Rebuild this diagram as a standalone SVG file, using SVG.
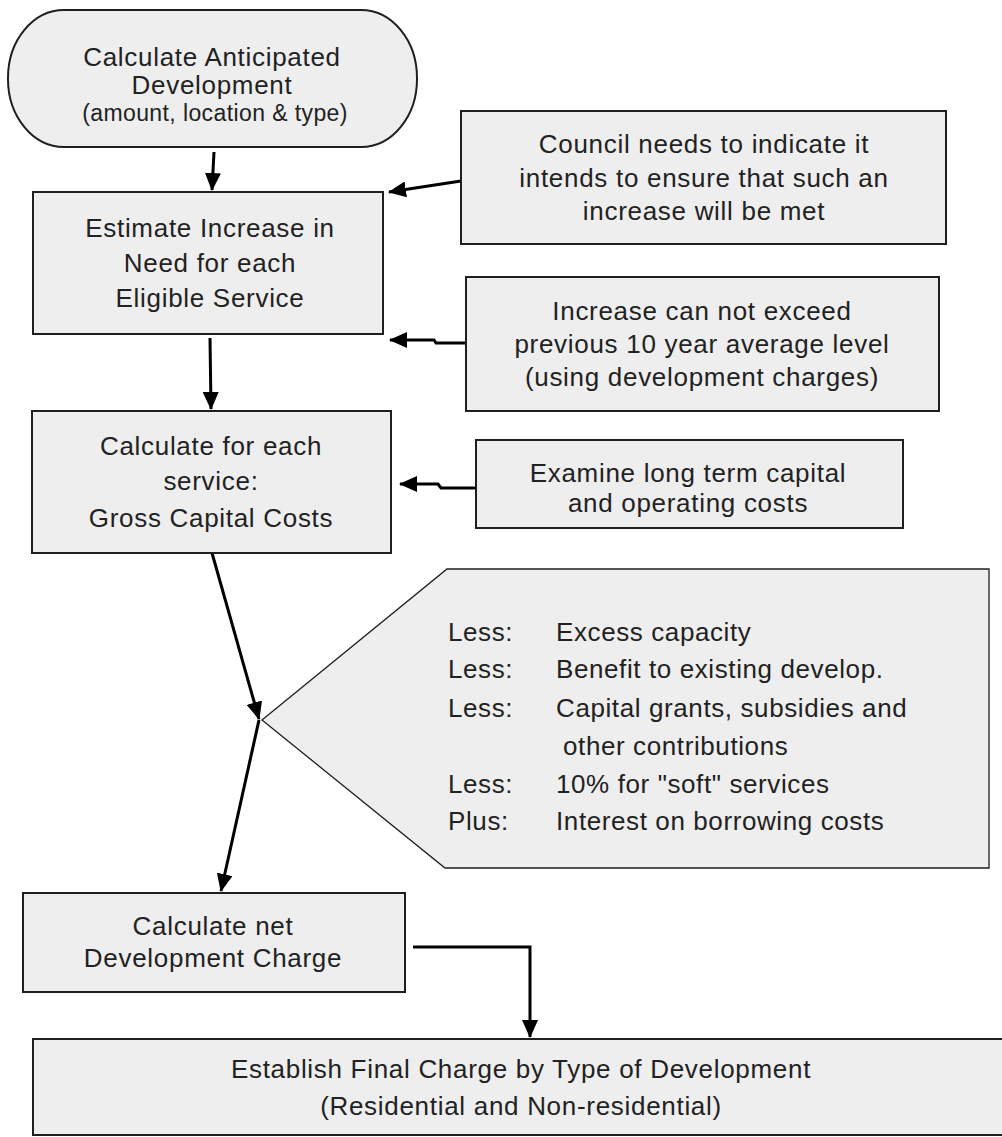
<svg xmlns="http://www.w3.org/2000/svg" width="1002" height="1137" viewBox="0 0 1002 1137">
  <style>
    .box { fill: #eeeeee; stroke: #1f1f1f; stroke-width: 2; }
    .callout { fill: #eeeeee; stroke: #1f1f1f; stroke-width: 1.3; }
    .t { font-family: "Liberation Sans", Arial, sans-serif; font-size: 26px; fill: #222222; text-anchor: middle; letter-spacing: 0.7px; }
    .small { font-size: 23px; letter-spacing: 0.4px; }
    .l { font-family: "Liberation Sans", Arial, sans-serif; font-size: 26px; fill: #222222; letter-spacing: 0.6px; }
    .conn { fill: none; stroke: #000000; stroke-width: 3; }
  </style>
  <defs>
    <marker id="arr" viewBox="0 0 18 16" refX="17" refY="8" markerWidth="18" markerHeight="16" markerUnits="userSpaceOnUse" orient="auto">
      <path d="M0,0 L18,8 L0,16 z" fill="#000000"/>
    </marker>
  </defs>

  <g id="connectors">
    <path class="conn" d="M214,152 L212,190" marker-end="url(#arr)"/>
    <path class="conn" d="M210,338 L211,409" marker-end="url(#arr)"/>
    <path class="conn" d="M461,181 L389,192" marker-end="url(#arr)"/>
    <path class="conn" d="M466,343 L436,343 L434,340 L390,340" marker-end="url(#arr)"/>
    <path class="conn" d="M476,488 L441,488 L438,484 L400,484" marker-end="url(#arr)"/>
    <path class="conn" d="M212,553 L259,719" marker-end="url(#arr)"/>
    <path class="conn" d="M259,720 L221,891" marker-end="url(#arr)"/>
    <path class="conn" d="M413,947 L530,947 L530,1037" marker-end="url(#arr)"/>
  </g>

  <g id="n-anticipated">
    <rect class="box" x="8" y="10" width="409" height="137" rx="56" ry="68"/>
    <text class="t" x="212" y="66">Calculate Anticipated</text>
    <text class="t" x="212" y="94">Development</text>
    <text class="t small" x="215" y="121">(amount, location &amp; type)</text>
  </g>

  <g id="n-estimate">
    <rect class="box" x="33" y="192" width="350" height="142"/>
    <text class="t" x="210" y="237">Estimate Increase in</text>
    <text class="t" x="210" y="272">Need for each</text>
    <text class="t" x="210" y="307">Eligible Service</text>
  </g>

  <g id="n-gross">
    <rect class="box" x="32" y="411" width="359" height="142"/>
    <text class="t" x="211" y="455">Calculate for each</text>
    <text class="t" x="211" y="490">service:</text>
    <text class="t" x="211" y="527">Gross Capital Costs</text>
  </g>

  <g id="n-council">
    <rect class="box" x="461" y="111" width="485" height="133"/>
    <text class="t" x="704" y="153">Council needs to indicate it</text>
    <text class="t" x="704" y="187">intends to ensure that such an</text>
    <text class="t" x="704" y="220">increase will be met</text>
  </g>

  <g id="n-increase">
    <rect class="box" x="466" y="277" width="473" height="134"/>
    <text class="t" x="702" y="320">Increase can not exceed</text>
    <text class="t" x="702" y="353">previous 10 year average level</text>
    <text class="t" x="702" y="386">(using development charges)</text>
  </g>

  <g id="n-examine">
    <rect class="box" x="476" y="440" width="427" height="88"/>
    <text class="t" x="688" y="482">Examine long term capital</text>
    <text class="t" x="688" y="512">and operating costs</text>
  </g>

  <g id="n-less">
    <polygon class="callout" points="262,720 447,569 989,569 989,868 445,868"/>
    <text class="l" x="448" y="641">Less:</text>
    <text class="l" x="556" y="641">Excess capacity</text>
    <text class="l" x="448" y="678">Less:</text>
    <text class="l" x="556" y="678">Benefit to existing develop.</text>
    <text class="l" x="448" y="717">Less:</text>
    <text class="l" x="556" y="717">Capital grants, subsidies and</text>
    <text class="l" x="563" y="755">other contributions</text>
    <text class="l" x="448" y="793">Less:</text>
    <text class="l" x="556" y="793">10% for "soft" services</text>
    <text class="l" x="448" y="830">Plus:</text>
    <text class="l" x="556" y="830">Interest on borrowing costs</text>
  </g>

  <g id="n-net">
    <rect class="box" x="23" y="893" width="382" height="99"/>
    <text class="t" x="213" y="935">Calculate net</text>
    <text class="t" x="213" y="967">Development Charge</text>
  </g>

  <g id="n-final">
    <rect class="box" x="33" y="1039" width="975" height="96"/>
    <text class="t" x="521" y="1078">Establish Final Charge by Type of Development</text>
    <text class="t" x="521" y="1115">(Residential and Non-residential)</text>
  </g>
</svg>
